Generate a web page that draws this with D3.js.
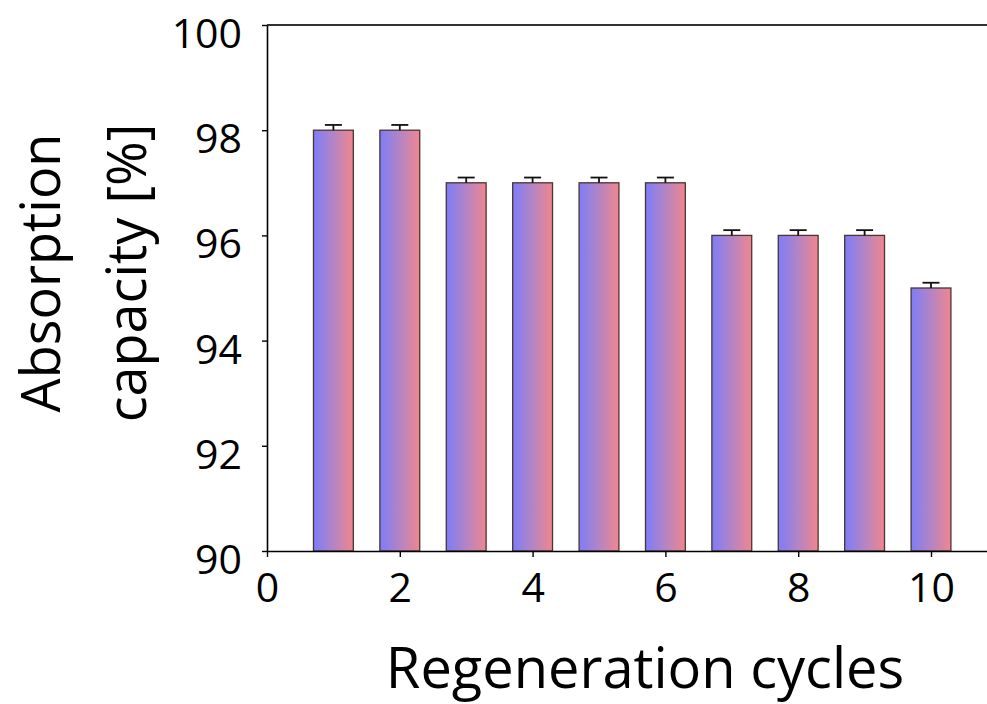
<!DOCTYPE html>
<html>
<head>
<meta charset="utf-8">
<script src="https://cdn.jsdelivr.net/npm/d3@7"></script>
<style>
  html, body { margin: 0; padding: 0; background: #fff; }
  svg { display: block; }
  text { font-family: "Open Sans", "Noto Sans", sans-serif; fill: #000; }
</style>
</head>
<body>
<svg id="chart" width="987" height="704"></svg>
<script>
// ---- data ----
const cycles = [1, 2, 3, 4, 5, 6, 7, 8, 9, 10];
const capacity = [98, 98, 97, 97, 97, 97, 96, 96, 96, 95];
const errors = [0.1, 0.1, 0.1, 0.1, 0.1, 0.1, 0.1, 0.1, 0.1, 0.1];
const xTicks = [0, 2, 4, 6, 8, 10];
const yTicks = [90, 92, 94, 96, 98, 100];
const xTitle = "Regeneration cycles";
const yTitleLines = ["Absorption", "capacity [%]"];

// ---- layout ----
const svg = d3.select("#chart");
const plotLeft = 267, plotTop = 25, plotBottom = 551;
const x = d3.scaleLinear().domain([0, 11]).range([plotLeft, plotLeft + 66.4 * 11]);
const y = d3.scaleLinear().domain([90, 100]).range([plotBottom, plotTop]);
const barW = x(0.6) - x(0);

// gradient
const defs = svg.append("defs");
const grad = defs.append("linearGradient").attr("id", "barGrad")
  .attr("x1", "0%").attr("x2", "100%").attr("y1", "0%").attr("y2", "0%");
grad.append("stop").attr("offset", "0%").attr("stop-color", "#7d7df8");
grad.append("stop").attr("offset", "50%").attr("stop-color", "#b484c4");
grad.append("stop").attr("offset", "100%").attr("stop-color", "#f0868e");

// bars
svg.append("g").selectAll("rect").data(cycles).join("rect")
  .attr("x", (d) => x(d) - barW / 2)
  .attr("y", (d, i) => y(capacity[i]))
  .attr("width", barW)
  .attr("height", (d, i) => y(90) - y(capacity[i]))
  .attr("fill", "url(#barGrad)")
  .attr("stroke", "#4a3434")
  .attr("stroke-width", 1.3);

// error bars
const eg = svg.append("g").attr("stroke", "#111").attr("stroke-width", 1.8);
eg.selectAll("line.v").data(cycles).join("line").attr("class", "v")
  .attr("x1", (d) => x(d)).attr("x2", (d) => x(d))
  .attr("y1", (d, i) => y(capacity[i]))
  .attr("y2", (d, i) => y(capacity[i] + errors[i]));
eg.selectAll("line.c").data(cycles).join("line").attr("class", "c")
  .attr("x1", (d) => x(d) - 8.5).attr("x2", (d) => x(d) + 8.5)
  .attr("y1", (d, i) => y(capacity[i] + errors[i]))
  .attr("y2", (d, i) => y(capacity[i] + errors[i]));

// top frame line
svg.append("line")
  .attr("x1", x(0)).attr("x2", x(11))
  .attr("y1", y(100)).attr("y2", y(100))
  .attr("stroke", "#333").attr("stroke-width", 2);

// axes
const yAxis = svg.append("g").attr("transform", `translate(${plotLeft},0)`)
  .call(d3.axisLeft(y).tickValues(yTicks).tickSize(5).tickPadding(20).tickSizeOuter(0));
const xAxis = svg.append("g").attr("transform", `translate(0,${plotBottom})`)
  .call(d3.axisBottom(x).tickValues(xTicks).tickSize(6).tickPadding(16).tickSizeOuter(0));

[yAxis, xAxis].forEach((g) => {
  g.select(".domain").attr("stroke", "#000").attr("stroke-width", 1.6);
  g.selectAll(".tick line").attr("stroke", "#000").attr("stroke-width", 1.4);
  g.selectAll(".tick text").style("font-size", "41px").attr("fill", "#000");
});
yAxis.selectAll(".tick text").attr("dy", "0.55em");

// titles
svg.append("text")
  .attr("x", 645).attr("y", 688)
  .attr("text-anchor", "middle")
  .style("font-size", "56px")
  .text(xTitle);

const yBase = [60, 146];
yTitleLines.forEach((t, i) => {
  svg.append("text")
    .attr("transform", `translate(${yBase[i]},273) rotate(-90)`)
    .attr("text-anchor", "middle")
    .style("font-size", "54px")
    .text(t);
});
</script>
</body>
</html>
